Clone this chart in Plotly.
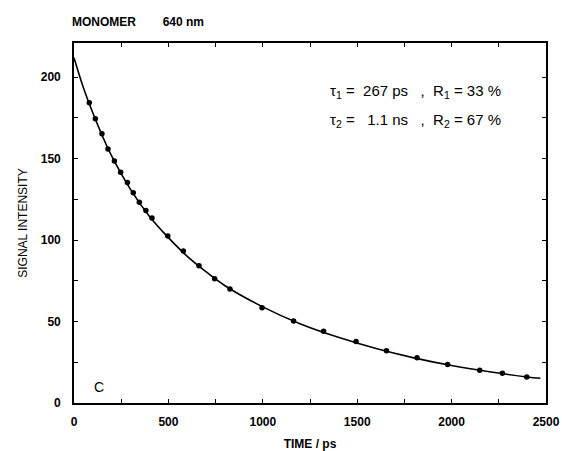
import plotly.graph_objects as go

# Measured data points (time in ps, signal intensity)
time_pts = [81, 113, 148, 180, 214, 247, 283, 314, 346, 381, 413, 497, 579, 662,
            745, 826, 996, 1163, 1322, 1494, 1655, 1817, 1979, 2149, 2269, 2398]
signal_pts = [184.3, 174.5, 165.3, 156, 148.5, 141.7, 135.4, 129, 123.3, 118.2, 113.6,
              102.5, 93.3, 84.3, 76.3, 70, 58.5, 50.3, 44, 37.7, 32.1, 27.8, 23.7,
              20.1, 18.2, 16]

# Fitted curve
time_fit = [0, 50, 100, 150, 200, 300, 400, 500, 600, 700, 800, 1000, 1200, 1400,
            1600, 1800, 2000, 2200, 2400, 2470]
signal_fit = [212, 193.5, 178, 164, 151.5, 131, 114.5, 101.5, 90, 80.5, 72, 59, 48.5,
              40.3, 33.4, 27.7, 23, 19.2, 16, 15.2]

x_ticks = [0, 500, 1000, 1500, 2000, 2500]
y_ticks = [0, 50, 100, 150, 200]

FONT = "Liberation Sans"

fig = go.Figure()
fig.add_trace(go.Scatter(x=time_fit, y=signal_fit, mode="lines",
                         line=dict(color="black", width=1.6, shape="spline"),
                         showlegend=False, hoverinfo="skip"))
fig.add_trace(go.Scatter(x=time_pts, y=signal_pts, mode="markers",
                         marker=dict(color="black", size=5.5),
                         showlegend=False))

axis_common = dict(showline=True, linecolor="black", linewidth=1.6, mirror="ticks",
                   ticks="inside", ticklen=4, tickwidth=1, tickcolor="black",
                   showgrid=False, zeroline=False, automargin=False,
                   tickfont=dict(family=FONT, size=12, color="black", weight="bold"))

fig.update_xaxes(range=[0, 2500], tickvals=x_ticks, ticktext=[str(v) for v in x_ticks],
                 minor=dict(dtick=250, ticks="inside", ticklen=4, tickcolor="black"),
                 ticklabelstandoff=7,
                 title=dict(text="TIME / ps", font=dict(family=FONT, size=12, color="black", weight="bold"),
                            standoff=11),
                 **axis_common)
fig.update_yaxes(range=[0, 221], tickvals=y_ticks, ticktext=[str(v) for v in y_ticks],
                 minor=dict(dtick=25, ticks="inside", ticklen=4, tickcolor="black"),
                 ticklabelstandoff=9,
                 title=dict(text="SIGNAL INTENSITY", font=dict(family=FONT, size=12, color="black"),
                            standoff=11),
                 **axis_common)

ann_font = dict(family=FONT, size=15, color="black")
fig.add_annotation(x=0.0, y=1.0, xref="paper", yref="paper", xanchor="left", yanchor="bottom",
                   yshift=12, xshift=-4, text="<b>MONOMER        640 nm</b>", showarrow=False,
                   font=dict(family=FONT, size=12, color="black"))
fig.add_annotation(x=0.538, y=0.865, xref="paper", yref="paper", xanchor="left", yanchor="middle",
                   text="τ<sub>1</sub> =  267 ps   ,  R<sub>1</sub> = 33 %", showarrow=False, font=ann_font)
fig.add_annotation(x=0.538, y=0.784, xref="paper", yref="paper", xanchor="left", yanchor="middle",
                   text="τ<sub>2</sub> =   1.1 ns   ,  R<sub>2</sub> = 67 %", showarrow=False, font=ann_font)
fig.add_annotation(x=0.053, y=0.045, xref="paper", yref="paper", xanchor="center", yanchor="middle",
                   text="C", showarrow=False, font=dict(family=FONT, size=14, color="black"))

fig.update_layout(width=562, height=451, margin=dict(l=74, r=16, t=43, b=48),
                  plot_bgcolor="white", paper_bgcolor="white")

# Remove the default page margin so the figure fills the window exactly.
fig.write_html("out.html", config={"displayModeBar": False},
               post_script="document.body.style.margin='0';document.body.style.overflow='hidden';")
